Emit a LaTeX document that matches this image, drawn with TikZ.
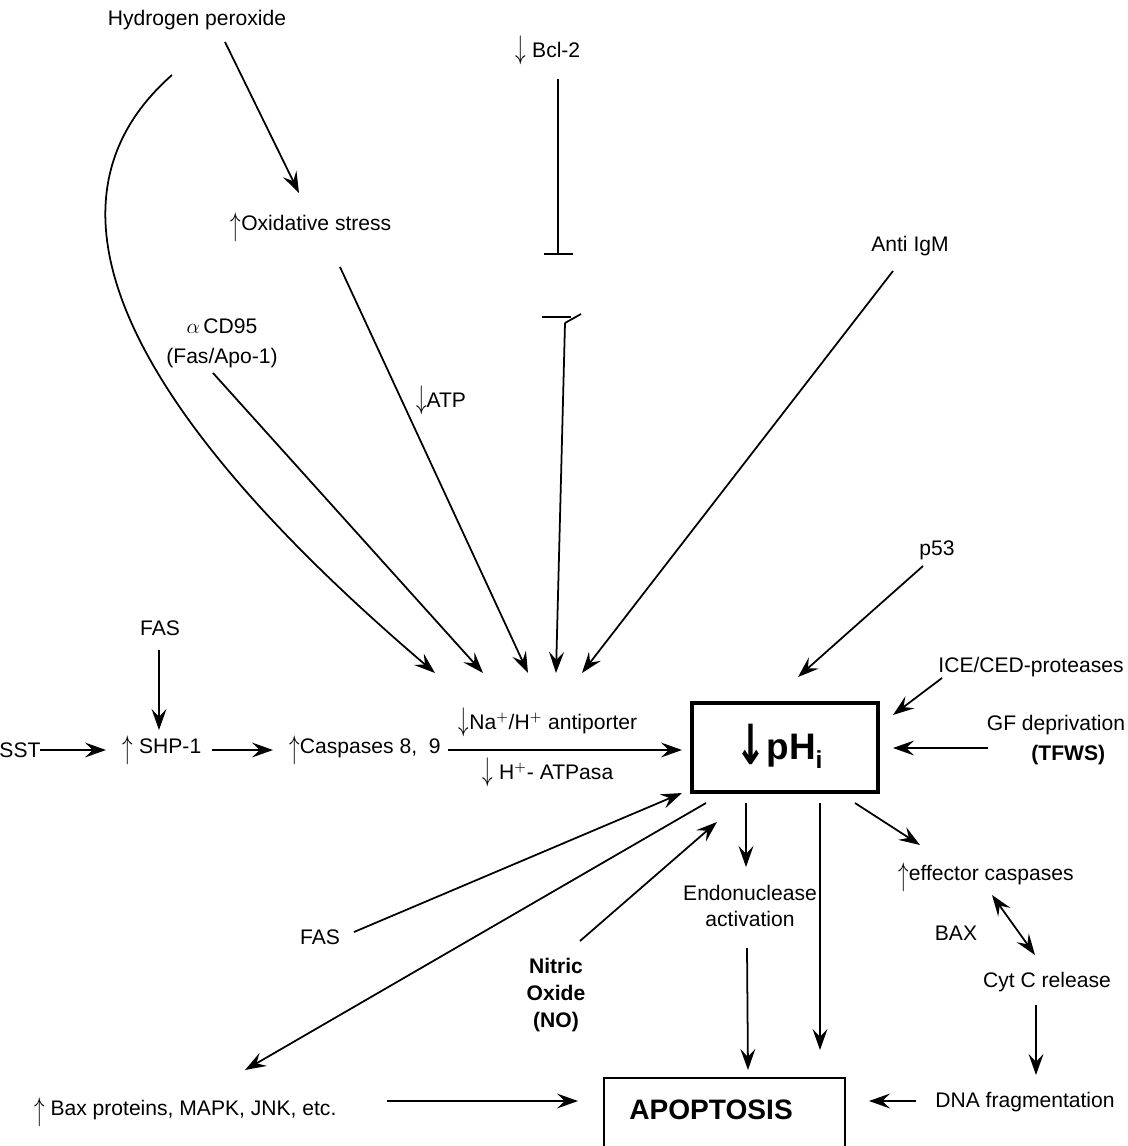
\documentclass[tikz,border=0pt]{standalone}
\usepackage{fontspec}
\setmainfont{Liberation Sans}
\newfontfamily\arrowfont{DejaVu Sans}
\usetikzlibrary{arrows.meta,positioning}

\tikzset{
  lbl/.style={inner sep=1pt, align=center, font=\fontsize{12}{17}\selectfont},
  arr/.style={line width=1pt, -{Stealth[length=12pt,width=8.5pt,inset=4.5pt]}},
  dblarr/.style={line width=1pt, {Stealth[length=12pt,width=8.5pt,inset=4.5pt]}-{Stealth[length=12pt,width=8.5pt,inset=4.5pt]}},
  inhib/.style={line width=1pt, -{Bar[width=16.5pt,line width=1pt]}},
  plain/.style={line width=1pt},
}
\newcommand{\up}{\raisebox{-0.45ex}{\scalebox{1}[1.55]{$\uparrow$}}}
\newcommand{\down}{\raisebox{-0.1ex}{\scalebox{1}[1.55]{$\downarrow$}}}

\begin{document}
\begin{tikzpicture}[x=0.02cm, y=-0.02cm]
\useasboundingbox (0,0) rectangle (1127,1146);

% upper inputs
\node[lbl] (h2o2) at (197,20) {Hydrogen peroxide};
\node[lbl] (oxstress) at (311,227) {\up Oxidative stress};
\node[lbl] (bcl) at (548,50) {\down\ Bcl-2};
\node[lbl] (antiigm) at (910,246) {Anti IgM};
\node[lbl] (acd95) at (222,343) {$\alpha$\,CD95\\(Fas/Apo-1)};
\node[lbl] (atp) at (441,400) {\down ATP};
\node[lbl] (p53) at (937,550) {p53};

% central pH box
\node[draw, line width=1.8pt, minimum width=3.72cm, minimum height=1.78cm, inner sep=0pt] (ph) at (785,747.5) {};
\node[font=\fontsize{21}{24}\selectfont\bfseries] (phtxt) at (779,746) {\raisebox{-0.25ex}{\scalebox{1}[1.5]{\arrowfont ↓}}pH\raisebox{-0.45ex}{\fontsize{14}{16}\selectfont i}};

% left chain
\node[lbl] (fas1) at (160,628) {FAS};
\node[lbl] (sst) at (20,750) {SST};
\node[lbl] (shp) at (162,750) {\up\ SHP-1};
\node[lbl] (casp) at (365,750) {\up Caspases 8,\ \ 9};
\node[lbl] (nah) at (548,722) {\down Na$^{+}$/H$^{+}$ antiporter};
\node[lbl] (hatp) at (548,772) {\down\ H$^{+}$- ATPasa};

% right inputs
\node[lbl] (ice) at (1031,667) {ICE/CED-proteases};
\node[lbl] (gf) at (1056,740) {GF deprivation\\\hspace*{14pt}\textbf{(TFWS)}};

% lower part
\node[lbl] (fas2) at (320,937) {FAS};
\node[lbl, font=\fontsize{12}{15.5}\selectfont\bfseries] (no) at (556,995) {Nitric\\Oxide\\(NO)};
\node[lbl, font=\fontsize{12}{15}\selectfont] (endo) at (750,906) {Endonuclease\\activation};
\node[lbl] (effc) at (986,877) {\up effector caspases};
\node[lbl] (bax) at (956,933) {BAX};
\node[lbl] (cytc) at (1047,982) {Cyt C release};
\node[lbl] (dna) at (1025,1102) {DNA fragmentation};
\node[lbl, anchor=west] (baxp) at (32,1112) {\up\ Bax proteins, MAPK, JNK, etc.};
\node[draw, line width=1pt, minimum width=4.82cm, minimum height=1.9cm, anchor=north west, inner sep=0pt] (apbox) at (603,1077) {};
\node[font=\fontsize{16}{19}\selectfont\bfseries] (apop) at (711,1110) {APOPTOSIS};

% end points of the connectors
\coordinate (h2o2a) at (225,42);
\coordinate (oxtop) at (299,193);
\coordinate (h2o2b) at (172,75);
\coordinate (tipa) at (435,673);
\coordinate (oxbot) at (340,267);
\coordinate (tipc) at (528,673);
\coordinate (cdbot) at (213,373);
\coordinate (tipb) at (483,673);
\coordinate (bcltop) at (558,79);
\coordinate (bclbar) at (558,255);
\coordinate (barl) at (542,317);
\coordinate (barr) at (571,317);
\coordinate (kinkend) at (581,314);
\coordinate (kink) at (565,323);
\coordinate (tipd) at (556,673);
\coordinate (igmbot) at (893,271);
\coordinate (tipe) at (582,673);
\coordinate (p53bot) at (923,566);
\coordinate (p53tip) at (798,677);
\coordinate (icea) at (942,678);
\coordinate (iceb) at (893,715);
\coordinate (gfa) at (988,748);
\coordinate (gfb) at (893,748);
\coordinate (fas1a) at (159,650);
\coordinate (fas1b) at (159,730);
\coordinate (ssta) at (40,750);
\coordinate (sstb) at (106,750);
\coordinate (shpa) at (212,750);
\coordinate (shpb) at (273,750);
\coordinate (caspa) at (448,750);
\coordinate (caspb) at (682,750);
\coordinate (fas2a) at (354,932);
\coordinate (fas2b) at (682,793);
\coordinate (baxa) at (706,803);
\coordinate (baxb) at (245,1070);
\coordinate (noa) at (580,941);
\coordinate (nob) at (717,822);
\coordinate (enda) at (746,803);
\coordinate (endb) at (746,867);
\coordinate (longa) at (820,803);
\coordinate (longb) at (820,1050);
\coordinate (effa) at (855,803);
\coordinate (effb) at (920,845);
\coordinate (endc) at (747,948);
\coordinate (endd) at (748,1070);
\coordinate (dbla) at (992,895);
\coordinate (dblb) at (1035,955);
\coordinate (cyta) at (1036,1005);
\coordinate (cytb) at (1036,1075);
\coordinate (dnaa) at (916,1101);
\coordinate (dnab) at (869,1101);
\coordinate (baxpa) at (387,1101);
\coordinate (baxpb) at (578,1101);

% arrows into the antiporter
\draw[arr] (h2o2a) -- (oxtop);
\draw[arr] (h2o2b) .. controls (30,200) and (115,400) .. (tipa);
\draw[arr] (cdbot) -- (tipb);
\draw[arr] (oxbot) -- (tipc);
\draw[inhib] (bcltop) -- (bclbar);
\draw[plain] (barl) -- (barr);
\draw[plain] (kinkend) -- (kink);
\draw[arr] (kink) -- (tipd);
\draw[arr] (igmbot) -- (tipe);

% left chain
\draw[arr] (fas1a) -- (fas1b);
\draw[arr] (ssta) -- (sstb);
\draw[arr] (shpa) -- (shpb);
\draw[arr] (caspa) -- (caspb);

% right side
\draw[arr] (p53bot) -- (p53tip);
\draw[arr] (icea) -- (iceb);
\draw[arr] (gfa) -- (gfb);

% below the pH box
\draw[arr] (fas2a) -- (fas2b);
\draw[arr] (baxa) -- (baxb);
\draw[arr] (noa) -- (nob);
\draw[arr] (enda) -- (endb);
\draw[arr] (longa) -- (longb);
\draw[arr] (effa) -- (effb);
\draw[arr] (endc) -- (endd);
\draw[dblarr] (dbla) -- (dblb);
\draw[arr] (cyta) -- (cytb);
\draw[arr] (dnaa) -- (dnab);
\draw[arr] (baxpa) -- (baxpb);

\end{tikzpicture}
\end{document}
